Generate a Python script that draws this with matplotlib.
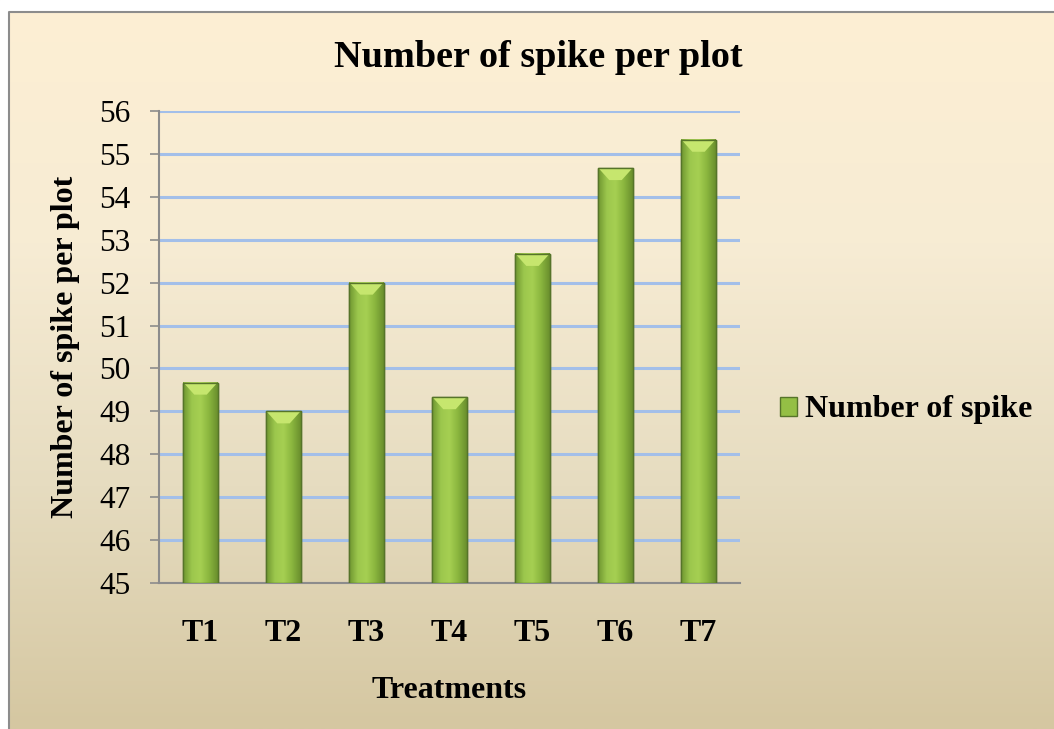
import numpy as np
import matplotlib
matplotlib.use("Agg")
import matplotlib.pyplot as plt
from matplotlib.colors import LinearSegmentedColormap
from matplotlib.patches import Polygon

treatments = ["T1", "T2", "T3", "T4", "T5", "T6", "T7"]
spikes = [49.67, 49.0, 52.0, 49.33, 52.67, 54.67, 55.33]
yticks = list(range(45, 57))

plt.rcParams['font.family'] = ['Liberation Serif', 'DejaVu Serif']

W, H = 1054, 729
fig = plt.figure(figsize=(W / 100, H / 100), dpi=100)

# background gradient (cream top -> tan bottom)
bg = fig.add_axes([0, 0, 1, 1], zorder=0)
bg.set_axis_off()
grad = LinearSegmentedColormap.from_list("bg", ["#d5c7a1", "#e6dcc0", "#f7ecd4", "#fdefd3"])
bg.imshow(np.linspace(0, 1, 256).reshape(-1, 1), cmap=grad, aspect="auto",
          extent=[0, 1, 0, 1], origin="lower")
bg.set_xlim(0, 1)
bg.set_ylim(0, 1)
# white margin and border at top/left
bg.axhspan(1 - 11 / H, 1, color="white", zorder=2)
bg.axvspan(0, 8 / W, color="white", zorder=2)
bg.plot([8.5 / W, 8.5 / W, 1], [0, 1 - 11.5 / H, 1 - 11.5 / H], color="#8c8c8c", lw=1.5, zorder=3)

ax = fig.add_axes([159 / W, 1 - 583 / H, (740 - 159) / W, (583 - 111) / H], zorder=1)
ax.patch.set_alpha(0)

x = np.arange(len(treatments))
bw = 0.41
bars = ax.bar(x, [v - 45 for v in spikes], bottom=45, width=bw, color="#94bf45",
              edgecolor="#56742a", linewidth=1.0, zorder=3)

# bar shading: darker sides, lighter centre, light bevel at top
bar_cm = LinearSegmentedColormap.from_list("bar", ["#6f9630", "#9cc74d", "#a6d052", "#8ab63e", "#6a8f2d"])
for xi, v in zip(x, spikes):
    ax.imshow(np.linspace(0, 1, 64).reshape(1, -1), cmap=bar_cm, aspect="auto",
              extent=[xi - bw / 2, xi + bw / 2, 45, v], zorder=3.5, interpolation="bicubic")
    ax.add_patch(Polygon([[xi - bw / 2, v], [xi + bw / 2, v], [xi + bw / 2 - 0.13, v - 0.28],
                          [xi - bw / 2 + 0.13, v - 0.28]], closed=True,
                         facecolor="#c6e66e", edgecolor="none", zorder=3.6))
    ax.add_patch(plt.Rectangle((xi - bw / 2, 45), bw, v - 45, fill=False,
                               edgecolor="#56742a", lw=1.0, zorder=3.7))

ax.set_xlim(-0.5, len(treatments) - 0.5)
ax.set_ylim(45, 56)
ax.set_yticks(yticks)
ax.set_yticklabels([str(t) for t in yticks], fontsize=22.5)
ax.set_xticks(x)
ax.set_xticklabels(treatments, fontsize=23, fontweight="bold")
ax.tick_params(axis="x", length=0, pad=26)
ax.tick_params(axis="y", length=6.5, width=1.2, color="#8c8c8c", pad=14)
ax.yaxis.grid(True, color="#a3bfe9", lw=2.2, zorder=1)
ax.set_axisbelow(True)
for s in ["top", "right"]:
    ax.spines[s].set_visible(False)
for s in ["left", "bottom"]:
    ax.spines[s].set_color("#8c8c8c")
    ax.spines[s].set_linewidth(1.5)

ax.set_ylabel("Number of spike per plot", fontsize=23, fontweight="bold", labelpad=14)
ax.set_xlabel("Treatments", fontsize=23, fontweight="bold", labelpad=20)
ax.set_xlim(-0.5, len(treatments) - 0.5)
ax.set_ylim(45, 56)

fig.text(538 / W, 1 - 67 / H, "Number of spike per plot", fontsize=27.5, fontweight="bold",
         ha="center", va="baseline")

leg = fig.legend([bars], ["Number of spike"], loc="center left", bbox_to_anchor=(780 / W, 1 - 410 / H),
                 frameon=False, prop={"size": 23, "weight": "bold"}, handlelength=0.53,
                 handleheight=0.53, handletextpad=0.25, borderpad=0, borderaxespad=0)

fig.savefig("out.png", dpi=100)
